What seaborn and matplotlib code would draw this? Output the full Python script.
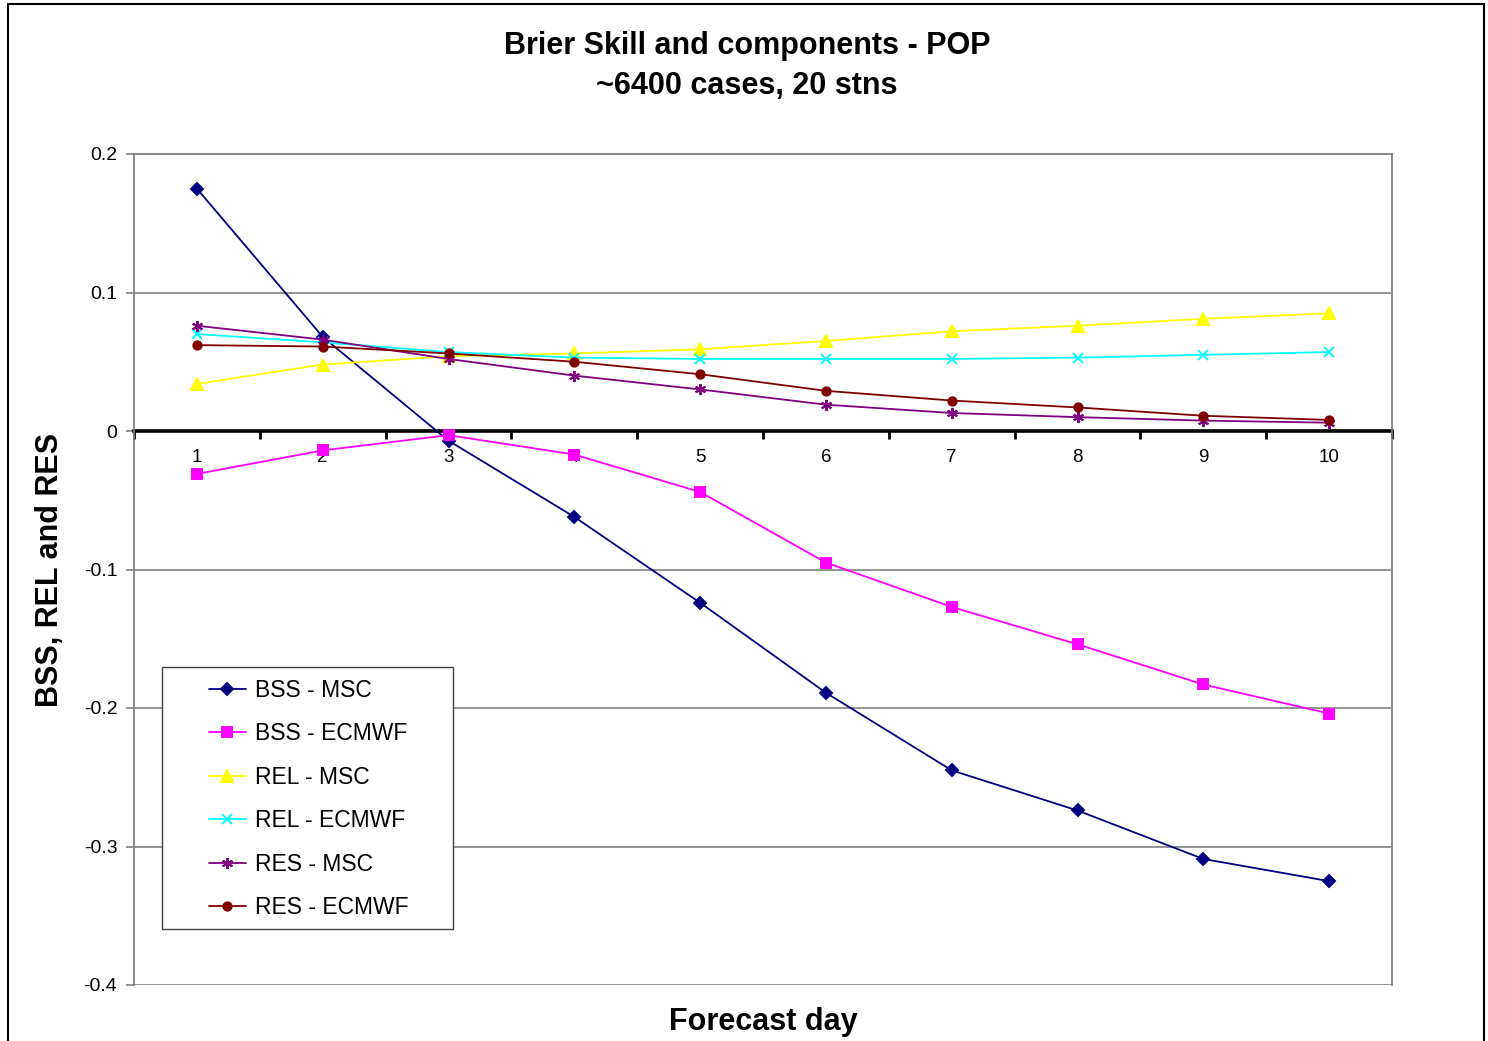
import numpy as np
import pandas as pd
import seaborn as sns
import matplotlib
matplotlib.use("Agg")
import matplotlib.pyplot as plt
from matplotlib.patches import Rectangle

# Forecast days and the Brier score components for each model
days = [1, 2, 3, 4, 5, 6, 7, 8, 9, 10]
bss_msc = [0.175, 0.068, -0.007, -0.062, -0.124, -0.189, -0.245, -0.274, -0.309, -0.325]
bss_ecmwf = [-0.031, -0.014, -0.003, -0.017, -0.044, -0.095, -0.127, -0.154, -0.183, -0.204]
rel_msc = [0.034, 0.048, 0.054, 0.056, 0.059, 0.065, 0.072, 0.076, 0.081, 0.085]
rel_ecmwf = [0.070, 0.064, 0.057, 0.053, 0.052, 0.052, 0.052, 0.053, 0.055, 0.057]
res_msc = [0.076, 0.066, 0.052, 0.040, 0.030, 0.019, 0.013, 0.010, 0.0075, 0.006]
res_ecmwf = [0.062, 0.061, 0.056, 0.050, 0.041, 0.029, 0.022, 0.017, 0.011, 0.008]

series_names = ["BSS - MSC", "BSS - ECMWF", "REL - MSC", "REL - ECMWF", "RES - MSC", "RES - ECMWF"]
y_ticks = [0.2, 0.1, 0.0, -0.1, -0.2, -0.3, -0.4]
y_tick_labels = ["0.2", "0.1", "0", "-0.1", "-0.2", "-0.3", "-0.4"]

df = pd.DataFrame({
    "day": days * 6,
    "value": bss_msc + bss_ecmwf + rel_msc + rel_ecmwf + res_msc + res_ecmwf,
    "series": np.repeat(series_names, len(days)),
})

styles = {
    "BSS - MSC": dict(color="#000080", marker="D", ms=6.0),
    "BSS - ECMWF": dict(color="#FF00FF", marker="s", ms=6.5),
    "REL - MSC": dict(color="#FFFF00", marker="^", ms=8.5),
    "REL - ECMWF": dict(color="#00FFFF", marker="x", ms=7.5),
    "RES - MSC": dict(color="#800080", marker=(6, 2, 0), ms=8.0),
    "RES - ECMWF": dict(color="#800000", marker="o", ms=6.0),
}

sns.set_style("white")
plt.rcParams["font.family"] = ["Liberation Sans", "DejaVu Sans"]
plt.rcParams["text.color"] = "black"
plt.rcParams["axes.labelcolor"] = "black"
plt.rcParams["xtick.color"] = "black"
plt.rcParams["ytick.color"] = "black"

fig = plt.figure(figsize=(14.88, 10.41), dpi=100)
ax = fig.add_axes([134 / 1488, 1 - 985 / 1041, (1392 - 134) / 1488, (985 - 154) / 1041])

for name in series_names:
    st = styles[name]
    sub = df[df["series"] == name]
    sns.lineplot(data=sub, x="day", y="value", ax=ax, color=st["color"], lw=1.3,
                 marker=st["marker"], markersize=st["ms"], markeredgecolor=st["color"],
                 markerfacecolor=st["color"], markeredgewidth=1.4, label=name)

ax.set_xlim(0.5, 10.5)
ax.set_ylim(-0.4, 0.2)

# horizontal gridlines (the one at -0.4 closes the plot frame)
ax.set_yticks(y_ticks)
ax.set_yticklabels(y_tick_labels, fontsize=14)
ax.yaxis.grid(True, color="#808080", lw=1.2)
ax.set_axisbelow(True)
ax.tick_params(axis="y", which="major", direction="out", length=6, width=1.2,
               color="#808080", labelcolor="black", left=True, pad=6)

# category axis crossing at zero
ax.spines["bottom"].set_position(("data", 0))
ax.spines["bottom"].set_color("black")
ax.spines["bottom"].set_linewidth(2.6)
ax.spines["bottom"].set_zorder(1.5)
for side in ["top", "right", "left"]:
    ax.spines[side].set_color("#808080")
    ax.spines[side].set_linewidth(1.3)
    ax.spines[side].set_visible(True)

ax.set_xticks(days)
ax.set_xticklabels([str(d) for d in days], fontsize=13.5)
ax.set_xticks(np.arange(0.5, 11, 1.0), minor=True)
ax.tick_params(axis="x", which="major", length=0, pad=13)
ax.tick_params(axis="x", which="minor", direction="out", length=6, width=2, color="black", bottom=True)

ax.set_xlabel("Forecast day", fontsize=22, fontweight="bold")
ax.xaxis.set_label_coords(0.5, -(1022 - 985) / 831)
ax.xaxis.label.set_va("center")
ax.set_ylabel("BSS, REL and RES", fontsize=22, fontweight="bold")
ax.yaxis.set_label_coords((50 - 134) / 1258, 0.5)
ax.yaxis.label.set_va("center")

fig.text(747 / 1488, 1 - 46 / 1041, "Brier Skill and components - POP", ha="center", va="center",
         fontsize=22, fontweight="bold")
fig.text(747 / 1488, 1 - 86 / 1041, "~6400 cases, 20 stns", ha="center", va="center",
         fontsize=22, fontweight="bold")

# legend entries, with a separate rectangular frame around them
leg = ax.legend(loc="upper left", bbox_to_anchor=((209 - 134) / 1258, 1 - (679 - 154) / 831),
                fontsize=16.5, frameon=False, handlelength=1.6, handletextpad=0.4,
                labelspacing=0.89, borderpad=0, borderaxespad=0)
leg.set_zorder(6)
ax.add_patch(Rectangle(((162 - 134) / 1258, 1 - (929 - 154) / 831), (453 - 162) / 1258,
                       (929 - 667) / 831, transform=ax.transAxes, facecolor="white",
                       edgecolor="#404040", lw=1.0, zorder=5))

# chart-area border
fig.patches.append(Rectangle((8 / 1488, -0.05), (1484 - 8) / 1488, 1.05 - 4 / 1041,
                             transform=fig.transFigure, fill=False, edgecolor="black", lw=1.5))

fig.savefig("out.png", dpi=100, facecolor="white")
